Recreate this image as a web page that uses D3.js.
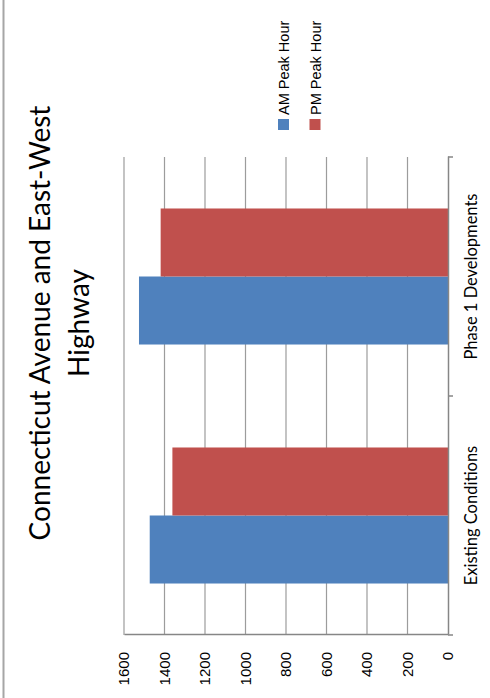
<!DOCTYPE html>
<html>
<head>
<meta charset="utf-8">
<script src="https://cdn.jsdelivr.net/npm/d3@7"></script>
<style>
  html, body { margin: 0; padding: 0; background: #fff; }
  svg { display: block; }
</style>
</head>
<body>
<svg id="chart" width="490" height="698"></svg>
<script>
// ---- data ----
const categories = ["Existing Conditions", "Phase 1 Developments"];
const seriesNames = ["AM Peak Hour", "PM Peak Hour"];
const amValues = [1473, 1526];
const pmValues = [1361, 1419];
const valueTicks = [0, 200, 400, 600, 800, 1000, 1200, 1400, 1600];
const titleLines = ["Connecticut Avenue and East-West", "Highway"];
const colors = ["#4F81BD", "#C0504D"];

const W = 698, H = 490; // unrotated chart size
const svg = d3.select("#chart");
svg.append("rect").attr("width", 490).attr("height", 698).attr("fill", "#fff");
// whole chart is drawn unrotated and then turned 90° counter-clockwise
const g = svg.append("g").attr("transform", `translate(0,${W}) rotate(-90)`);

// frame edge
g.append("line").attr("x1", 0).attr("x2", W).attr("y1", 3.5).attr("y2", 3.5)
  .attr("stroke", "#a6a6a6").attr("stroke-width", 2);

const plot = { left: 63, right: 541, top: 124, bottom: 448 };

const y = d3.scaleLinear().domain([0, 1600]).range([plot.bottom, plot.top]);
const x0 = d3.scaleBand().domain(categories).range([plot.left, plot.right]);
const x1 = d3.scaleBand().domain(seriesNames).range([0, x0.bandwidth()])
  .paddingInner(0).paddingOuter(0.757);

// gridlines
g.append("g").selectAll("line").data(valueTicks.filter(d => d > 0)).join("line")
  .attr("x1", plot.left).attr("x2", plot.right)
  .attr("y1", d => y(d)).attr("y2", d => y(d))
  .attr("stroke", "#9c9c9c").attr("stroke-width", 1.2);

// bars
const rows = categories.map((c, i) => ({ cat: c, vals: [amValues[i], pmValues[i]] }));
const grp = g.append("g").selectAll("g").data(rows).join("g")
  .attr("transform", d => `translate(${x0(d.cat)},0)`);
grp.selectAll("rect").data(d => d.vals.map((v, j) => ({ s: seriesNames[j], v, j }))).join("rect")
  .attr("x", d => x1(d.s)).attr("width", x1.bandwidth())
  .attr("y", d => y(d.v)).attr("height", d => y(0) - y(d.v))
  .attr("fill", d => colors[d.j]);

// value axis (left in unrotated frame)
const yAxis = d3.axisLeft(y).tickValues(valueTicks).tickFormat(d3.format("d"))
  .tickSize(0).tickPadding(17);
const ya = g.append("g").attr("transform", `translate(${plot.left},0)`).call(yAxis);
ya.select(".domain").attr("stroke", "#868686").attr("stroke-width", 1.5);
ya.selectAll("text").attr("font-family", "Liberation Sans, Arial, sans-serif")
  .attr("font-size", 15).attr("fill", "#000");

// category axis (bottom)
const xAxis = d3.axisBottom(x0).tickSize(0).tickPadding(17);
const xa = g.append("g").attr("transform", `translate(0,${plot.bottom})`).call(xAxis);
xa.select(".domain").attr("stroke", "#868686").attr("stroke-width", 1.5);
xa.selectAll("text").attr("font-family", "Lato, sans-serif").attr("font-size", 16.5).attr("fill", "#000");
// tick marks at category boundaries
const bounds = [plot.left, ...categories.map(c => x0(c) + x0.bandwidth())];
xa.append("g").selectAll("line").data(bounds).join("line")
  .attr("x1", d => d).attr("x2", d => d).attr("y1", 0).attr("y2", 5)
  .attr("stroke", "#868686").attr("stroke-width", 1.5);

// title
const title = g.append("text").attr("text-anchor", "middle")
  .attr("font-family", "Lato, sans-serif").attr("font-size", 28).attr("fill", "#000");
title.selectAll("tspan").data(titleLines).join("tspan")
  .attr("x", 375).attr("y", (d, i) => 50 + i * 39).text(d => d);

// legend
const leg = g.append("g").selectAll("g").data(seriesNames).join("g")
  .attr("transform", (d, i) => `translate(568,${278 + i * 31.5})`);
leg.append("rect").attr("width", 11).attr("height", 11).attr("fill", (d, i) => colors[i]);
leg.append("text").attr("x", 15).attr("y", 6).attr("dy", "0.35em")
  .attr("font-family", "Liberation Sans, Arial, sans-serif").attr("font-size", 14.5)
  .attr("fill", "#000").text(d => d);
</script>
</body>
</html>
